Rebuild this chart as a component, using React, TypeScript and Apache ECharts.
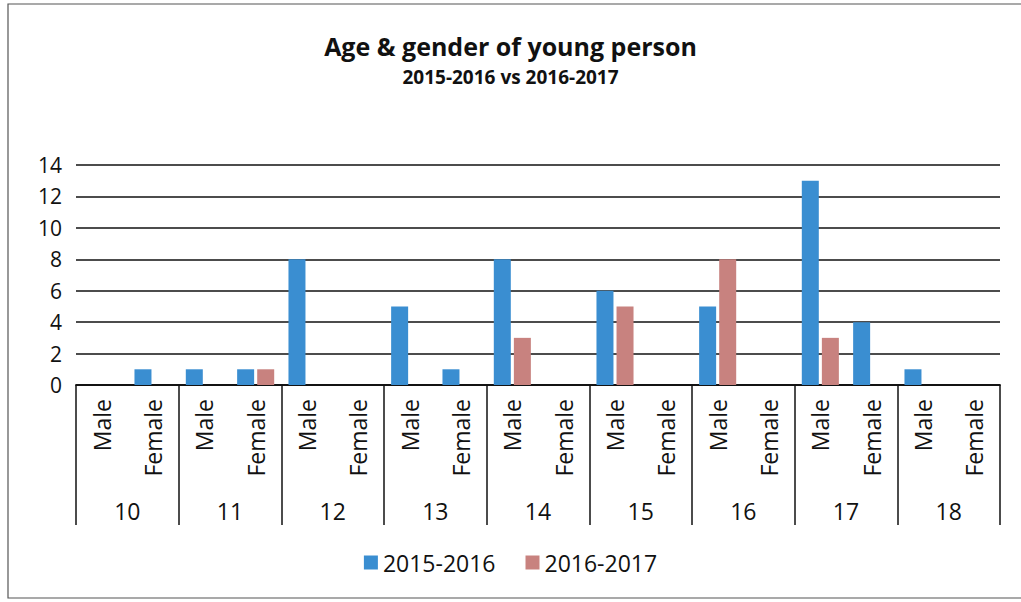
import React, { useEffect, useRef } from "react";
import * as echarts from "echarts";

const ages = ["10", "11", "12", "13", "14", "15", "16", "17", "18"];
const genders = ["Male", "Female"];
const series2015 = [0, 1, 1, 1, 8, 0, 5, 1, 8, 0, 6, 0, 5, 0, 13, 4, 1, 0];
const series2016 = [0, 0, 0, 1, 0, 0, 0, 0, 3, 0, 5, 0, 8, 0, 3, 0, 0, 0];
const seriesNames = ["2015-2016", "2016-2017"];
const yTicks = { min: 0, max: 14, interval: 2 };

const FONT = "Open Sans";

export default function App() {
  const ref = useRef<HTMLDivElement>(null);
  useEffect(() => {
    if (!ref.current) return;
    const chart = echarts.init(ref.current, undefined, { renderer: "svg" });
    const subCats: string[] = [];
    ages.forEach(() => genders.forEach((g) => subCats.push(g)));
    chart.setOption({
      animation: false,
      backgroundColor: "#ffffff",
      textStyle: { fontFamily: FONT, color: "#000" },
      title: {
        text: "Age & gender of young person",
        subtext: "2015-2016 vs 2016-2017",
        left: "center",
        top: 28,
        itemGap: 9,
        textStyle: { fontFamily: FONT, fontSize: 25, fontWeight: "bold", color: "#111" },
        subtextStyle: { fontFamily: FONT, fontSize: 19, fontWeight: "bold", color: "#111" },
      },
      legend: {
        bottom: 23,
        left: "center",
        itemWidth: 14,
        itemHeight: 14,
        itemGap: 30,
        icon: "rect",
        textStyle: { fontFamily: FONT, fontSize: 23, color: "#111" },
        data: seriesNames,
      },
      grid: { left: 76, right: 21, top: 165, bottom: 217, containLabel: false },
      xAxis: [
        {
          type: "category",
          data: subCats,
          position: "bottom",
          axisLine: { show: true, lineStyle: { color: "#111", width: 1.5 } },
          axisTick: { show: false },
          axisLabel: {
            rotate: 90,
            interval: 0,
            margin: 14,
            fontFamily: FONT,
            fontSize: 23,
            color: "#111",
          },
        },
        {
          type: "category",
          data: ages,
          position: "bottom",
          axisLine: { show: true, lineStyle: { color: "#111", width: 1.5 } },
          axisTick: { show: true, length: 140, inside: false, lineStyle: { color: "#111", width: 1.5 } },
          axisLabel: {
            interval: 0,
            margin: 114,
            fontFamily: FONT,
            fontSize: 23,
            color: "#111",
          },
        },
      ],
      yAxis: {
        type: "value",
        min: yTicks.min,
        max: yTicks.max,
        interval: yTicks.interval,
        axisLine: { show: false },
        axisTick: { show: false },
        axisLabel: { margin: 14, fontFamily: FONT, fontSize: 21, color: "#111" },
        splitLine: { lineStyle: { color: "#111", width: 1.6 } },
      },
      series: [
        {
          name: seriesNames[0],
          type: "bar",
          xAxisIndex: 0,
          data: series2015,
          barWidth: 17,
          barGap: "18%",
          itemStyle: { color: "#3a8ed1" },
        },
        {
          name: seriesNames[1],
          type: "bar",
          xAxisIndex: 0,
          data: series2016,
          barWidth: 17,
          barGap: "18%",
          itemStyle: { color: "#c8827f" },
        },
      ],
      graphic: [
        {
          type: "rect",
          shape: { x: 8, y: 4, width: 1030, height: 594 },
          style: { fill: "none", stroke: "#555", lineWidth: 1.2 },
          silent: true,
        },
      ],
    });
    return () => chart.dispose();
  }, []);
  return <div ref={ref} style={{ width: 1021, height: 602, position: "absolute", left: 0, top: 0 }} />;
}
